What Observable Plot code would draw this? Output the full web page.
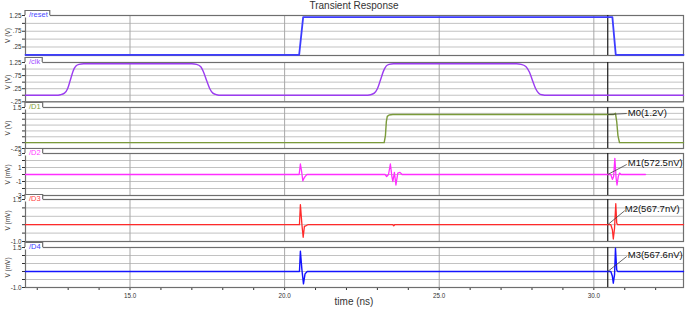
<!DOCTYPE html>
<html><head><meta charset="utf-8">
<script src="https://cdn.jsdelivr.net/npm/d3@7"></script>
<script src="https://cdn.jsdelivr.net/npm/@observablehq/plot@0.6"></script>
<style>
body{margin:0;background:#fff;}
#chart{position:relative;width:685px;height:309px;overflow:hidden;font-family:"Liberation Sans",Arial,sans-serif;}
.lbl{position:absolute;text-align:center;color:#333;font-size:10px;line-height:12px;white-space:nowrap;}
#chart svg{position:absolute;left:0;overflow:visible;}
</style></head><body><div id="chart"></div>
<script>
// ---------- data ----------
const titleText = "Transient Response";
const xLabelText = "time (ns)";
const timeDomain = [11.62, 32.9];
const xMinorTicks = d3.range(12, 33);
const xMajorTicks = [15, 20, 25, 30];
const xMajorLabels = ["15.0", "20.0", "25.0", "30.0"];
const cursorTime = 30.45;

const signalNames = ["/reset", "/clk", "/D1", "/D2", "/D3", "/D4"];
const signalUnits = ["V (V)", "V (V)", "V (V)", "V (mV)", "V (mV)", "V (mV)"];
const yDomains = [[-0.02, 1.25], [-0.25, 1.25], [-0.25, 1.5], [-3, 3], [-1, 1.5], [-1, 1.5]];
const yGrids = [
  [0.25, 0.5, 0.75, 1.0, 1.25],
  [-0.25, 0, 0.25, 0.5, 0.75, 1.0, 1.25],
  [-0.25, 0, 0.25, 0.5, 0.75, 1.0, 1.25, 1.5],
  [-3, -2, -1, 0, 1, 2, 3],
  [-1, -0.5, 0, 0.5, 1, 1.5],
  [-1, -0.5, 0, 0.5, 1, 1.5]
];
const yTickValues = [[1.25, 0.75, 0.25], [1.25, 0.75, 0.25, -0.25], [1.5, -0.25], [3, 1, -1, -3], [1.5, -1], [1.5, -1]];
const yTickLabels = [["1.25", ".75", ".25"], ["1.25", ".75", ".25", "-.25"], ["1.5", "-.25"], ["3", "1", "-1", "-3"], ["1.5", "-1.0"], ["1.5", "-1.0"]];

const resetT = [11.62, 20.47, 20.6, 30.6, 30.71, 32.9];
const resetV = [0, 0, 1.2, 1.2, 0, 0];

const clkT = [11.62, 12.6, 12.75, 12.88, 12.98, 13.07, 13.16, 13.25, 13.35, 13.5, 13.75,
  17.0, 17.15, 17.28, 17.38, 17.48, 17.58, 17.68, 17.8, 17.95,
  22.6, 22.78, 22.9, 23.0, 23.1, 23.2, 23.29, 23.38, 23.52, 23.75,
  27.5, 27.65, 27.8, 27.92, 28.02, 28.12, 28.22, 28.32, 28.5, 32.9];
const clkV = [0, 0, 0.02, 0.08, 0.25, 0.58, 0.93, 1.12, 1.18, 1.2, 1.2,
  1.2, 1.18, 1.1, 0.88, 0.55, 0.25, 0.08, 0.02, 0,
  0, 0.02, 0.08, 0.25, 0.58, 0.93, 1.12, 1.18, 1.2, 1.2,
  1.2, 1.18, 1.1, 0.88, 0.55, 0.25, 0.08, 0.02, 0, 0];

const d1T = [11.62, 23.22, 23.26, 23.29, 23.32, 23.38, 23.5, 30.64, 30.7, 30.74, 30.78, 30.83, 32.9];
const d1V = [0, 0, 0.3, 0.9, 1.12, 1.18, 1.2, 1.2, 1.25, 0.9, 0.3, 0, 0];

const d2T = [11.62, 20.47, 20.51, 20.55, 20.59, 20.62, 20.66, 20.72,
  23.25, 23.3, 23.36, 23.42, 23.47, 23.5, 23.55, 23.6, 23.66, 23.73, 23.8,
  30.55, 30.6, 30.64, 30.68, 30.72, 30.75, 30.79, 30.83, 30.88, 31.67];
const d2V = [0, 0, 1.5, 0.4, -0.9, -0.6, -0.3, 0,
  0, -0.3, 0, 1.5, -0.3, -1.0, 0.3, -1.5, 0.2, 0.3, 0,
  0, -0.7, -0.3, 2.3, -0.5, -1.5, -0.3, 0.2, 0, 0];

const d3T = [11.62, 20.48, 20.51, 20.56, 20.6, 20.64, 20.7, 20.75, 23.5, 23.53, 23.56,
  30.55, 30.6, 30.63, 30.67, 30.71, 30.74, 30.77, 32.9];
const d3V = [0, 0, 1.2, 0, -0.75, -0.1, -0.05, 0, 0, -0.06, 0,
  0, -0.3, -0.85, -0.2, 1.25, 0.1, 0, 0];

const d4T = [11.62, 20.48, 20.51, 20.56, 20.61, 20.66, 20.73, 30.55, 30.6, 30.63, 30.67, 30.7, 30.74, 30.77, 32.9];
const d4V = [0, 0, 1.27, 0.1, -0.77, -0.15, 0, 0, -0.3, -0.73, -0.2, 1.45, 0.1, 0, 0];

const markerNames = ["M0", "M1", "M2", "M3"];
const markerReadouts = ["1.2V", "572.5nV", "567.7nV", "567.6nV"];
const markerPanels = [2, 3, 4, 5];
const markerValues = [1.2, 0.0005725, 0.0005677, 0.0005676];

// ---------- styles / layout ----------
const seriesT = [resetT, clkT, d1T, d2T, d3T, d4T];
const seriesV = [resetV, clkV, d1V, d2V, d3V, d4V];
const lineColors = ["#3d3dff", "#9b3cf0", "#7a9a3a", "#ff2eff", "#ff2a2a", "#1414ff"];
const tabColors = ["#4a4aff", "#a050ff", "#80a040", "#ff40ff", "#ff4040", "#3c3cff"];
const lineWidths = [1.8, 1.4, 1.4, 1.3, 1.3, 1.4];
const curves = ["linear", "monotone-x", "linear", "linear", "linear", "linear"];
const frameTop = [15, 61.7, 107, 153, 199, 247];
const frameBottom = [55, 101, 148, 195, 241, 287];
const leaderEnd = [[19, -1], [19, -10], [17, -14], [19, -15]];
const labelOff = [[20, -1.5], [20, -12], [17, -16], [20, -17]];

const W = 685, ML = 25, MR = 2;
const chart = document.getElementById("chart");
const font = "Liberation Sans, Arial, sans-serif";

function addLabel(text, top, left, width, size) {
  const d = document.createElement("div");
  d.className = "lbl";
  d.textContent = text;
  d.style.top = top + "px"; d.style.left = left + "px"; d.style.width = width + "px";
  d.style.fontSize = size + "px";
  chart.appendChild(d);
}
addLabel(titleText, -0.5, ML, W - ML - MR, 10);

const pxPerNs = (W - ML - MR) / (timeDomain[1] - timeDomain[0]);

for (let i = 0; i < 6; i++) {
  const T = frameTop[i], B = frameBottom[i];
  const mt = 6, mb = i === 5 ? 22 : 3;
  const dom = yDomains[i];
  const pxPerUnit = (B - T) / (dom[1] - dom[0]);
  const data = seriesT[i].map((t, k) => ({t, v: seriesV[i][k]}));
  const labMap = new Map(yTickValues[i].map((v, k) => [v, yTickLabels[i][k]]));
  const xLabMap = new Map(xMajorTicks.map((v, k) => [v, xMajorLabels[k]]));
  const marks = [
    Plot.ruleY(yGrids[i], {stroke: "#c2c2c2", strokeWidth: 1}),
    Plot.ruleX(xMajorTicks, {stroke: "#a8a8a8", strokeWidth: 1}),
    Plot.frame({stroke: "#6e6e6e", strokeWidth: 1.2}),
    Plot.ruleX([cursorTime], {stroke: "#1a1a1a", strokeWidth: 1.2}),
    Plot.line(data, {x: "t", y: "v", stroke: lineColors[i], strokeWidth: lineWidths[i], curve: curves[i]}),
    Plot.text([signalUnits[i]], {text: d => d, frameAnchor: "left", dx: -18, rotate: -90, fontSize: 6.5, fill: "#333", textAnchor: "middle", lineAnchor: "middle"})
  ];
  const mIdx = markerPanels.indexOf(i);
  if (mIdx >= 0) {
    const v = markerValues[mIdx];
    const [ex, ey] = leaderEnd[mIdx];
    const [lx, ly] = labelOff[mIdx];
    marks.push(Plot.link([0], {
      x1: () => cursorTime, y1: () => v,
      x2: () => cursorTime + ex / pxPerNs, y2: () => v - ey / pxPerUnit,
      stroke: "#404040", strokeWidth: 0.8
    }));
    marks.push(Plot.text([markerNames[mIdx] + "(" + markerReadouts[mIdx] + ")"], {
      text: d => d, x: () => cursorTime, y: () => v, dx: lx, dy: ly,
      textAnchor: "start", lineAnchor: "middle", fontSize: 9.5, fill: "#111"
    }));
  }
  const svg = Plot.plot({
    width: W, height: (B - T) + mt + mb,
    marginLeft: ML, marginRight: MR, marginTop: mt, marginBottom: mb,
    style: {fontSize: "6.3px", fontFamily: font, background: "transparent", overflow: "visible", color: "#333"},
    x: {domain: timeDomain, axis: i === 5 ? "bottom" : null, ticks: xMinorTicks,
        tickFormat: d => xLabMap.get(d) || "", tickSize: 3, tickPadding: 3, label: null},
    y: {domain: dom, ticks: yGrids[i], tickFormat: d => labMap.get(d) || "", tickSize: 3, tickPadding: 1, label: null},
    marks
  });
  svg.style.top = (T - mt) + "px";
  chart.appendChild(svg);
  // folder tab with signal name
  const g = d3.select(svg).append("g");
  const txt = g.append("text").attr("x", ML + 4).attr("y", mt - 1).attr("dy", "0.35em")
    .attr("text-anchor", "start")
    .attr("fill", tabColors[i]).attr("font-size", 7.5).attr("font-family", font).text(signalNames[i]);
  const w = txt.node().getComputedTextLength() + 6;
  g.insert("rect", "text").attr("x", ML).attr("y", mt - 4.5).attr("width", w).attr("height", 7).attr("fill", "white");
  g.insert("path", "text").attr("d", `M${ML},${mt}V${mt - 4.5}H${ML + w}V${mt}`)
    .attr("fill", "none").attr("stroke", "#6e6e6e").attr("stroke-width", 1.2);
}
addLabel(xLabelText, 295.5, ML, W - ML - MR, 10);
</script></body></html>
